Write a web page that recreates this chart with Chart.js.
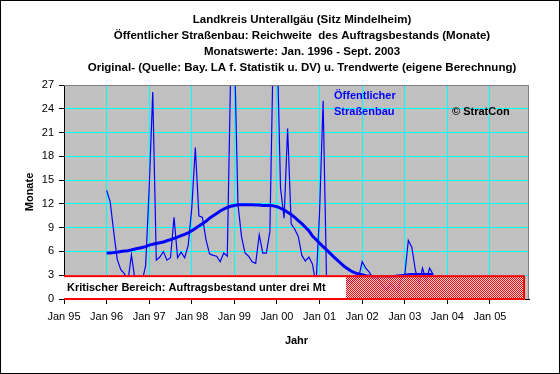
<!DOCTYPE html>
<html>
<head>
<meta charset="utf-8">
<script src="https://cdn.jsdelivr.net/npm/chart.js@4"></script>
<style>
    html, body { margin: 0; padding: 0; background: #fff; }
    #wrap { width: 560px; height: 374px; position: relative; }
</style>
</head>
<body>
<div id="wrap"><canvas id="reichweiteChart" width="560" height="374"></canvas></div>
<script>
// Chart data (months since Jan 95 on the x axis)
const titleLines = [
    'Landkreis Unterallgäu (Sitz Mindelheim)',
    'Öffentlicher Straßenbau: Reichweite  des Auftragsbestands (Monate)',
    'Monatswerte: Jan. 1996 - Sept. 2003',
    'Original- (Quelle: Bay. LA f. Statistik u. DV) u. Trendwerte (eigene Berechnung)'
];
const tickLabels = ['Jan 95', 'Jan 96', 'Jan 97', 'Jan 98', 'Jan 99', 'Jan 00',
                    'Jan 01', 'Jan 02', 'Jan 03', 'Jan 04', 'Jan 05'];
const firstMonth = 12;       // Jan 96
const axisMaxMonth = 131;    // Dec 05
const criticalLevel = 3;
const criticalEndMonth = 129.6;

// Monthly values Jan 1996 - Sept 2003
const originalValues = [
    13.7, 12.3, 8.5, 5.0, 3.7, 3.2, 2.2, 5.6, 2.4, 1.2, 2.2, 4.2,       // 1996
    14.0, 26.1, 4.9, 5.3, 6.0, 4.9, 5.2, 10.3, 5.2, 5.9, 5.2, 6.8,      // 1997
    11.5, 19.1, 10.5, 10.3, 7.5, 5.7, 5.5, 5.4, 4.7, 5.8, 5.4, 30.0,    // 1998
    32.0, 12.0, 7.9, 5.8, 5.4, 4.7, 4.5, 8.1, 5.8, 5.8, 8.5, 33.0,      // 1999
    33.0, 14.0, 10.2, 21.5, 9.5, 8.8, 7.9, 5.5, 4.8, 5.3, 4.4, 1.8,     // 2000
    11.0, 25.0, 1.5, 1.8, 2.3, 2.6, 2.2, 1.6, 2.4, 2.0, 2.6, 2.7,       // 2001
    4.7, 3.9, 3.4, 2.6, 2.7, 2.2, 1.5, 1.1, 1.9, 1.4, 0.9, 2.6,         // 2002
    3.0, 7.4, 6.5, 3.6, 1.9, 3.9, 2.3, 3.9, 3.1                         // 2003
];
const trendValues = [
    5.8, 5.8, 5.85, 5.9, 6.0, 6.05, 6.1, 6.2, 6.3, 6.4, 6.5, 6.6,
    6.8, 6.9, 7.0, 7.1, 7.2, 7.35, 7.5, 7.65, 7.8, 8.0, 8.15, 8.35,
    8.6, 8.9, 9.2, 9.5, 9.8, 10.2, 10.5, 10.8, 11.1, 11.35, 11.55, 11.7,
    11.8, 11.9, 11.9, 11.9, 11.9, 11.9, 11.85, 11.85, 11.8, 11.8, 11.8, 11.75,
    11.65, 11.45, 11.25, 10.95, 10.65, 10.3, 9.9, 9.5, 9.05, 8.6, 7.95, 7.5,
    7.05, 6.6, 6.2, 5.75, 5.3, 4.9, 4.5, 4.1, 3.8, 3.5, 3.3, 3.15,
    3.05, 2.95, 2.9, 2.85, 2.8, 2.8, 2.8, 2.8, 2.8, 2.85, 2.9, 2.95,
    3.0, 3.05, 3.1, 3.1, 3.1, 3.1, 3.1, 3.1, 3.1
];

const FONT = 'Arial, "Liberation Sans", sans-serif';

function toPoints(values) {
    return values.map((v, i) => ({ x: firstMonth + i, y: v }));
}

function makeHatch(ctx) {
    const c = document.createElement('canvas');
    c.width = 2;
    c.height = 2;
    const p = c.getContext('2d');
    p.fillStyle = 'rgba(255,235,235,0.6)';
    p.fillRect(0, 0, 2, 2);
    p.fillStyle = '#ff0000';
    p.fillRect(0, 0, 1, 1);
    p.fillRect(1, 1, 1, 1);
    return ctx.createPattern(c, 'repeat');
}

const pagePlugin = {
    id: 'page',
    beforeDraw(chart) {
        const { ctx, chartArea } = chart;
        ctx.save();
        ctx.fillStyle = '#ffffff';
        ctx.fillRect(0, 0, chart.width, chart.height);
        ctx.fillStyle = '#c0c0c0';
        ctx.fillRect(chartArea.left, chartArea.top,
                     chartArea.right - chartArea.left, chartArea.bottom - chartArea.top);
        ctx.restore();
    },
    afterDatasetsDraw(chart) {
        const { ctx, chartArea, scales } = chart;
        const x = scales.x, y = scales.y;
        const left = x.getPixelForValue(0);
        const right = x.getPixelForValue(criticalEndMonth);
        const top = y.getPixelForValue(criticalLevel);
        const bottom = y.getPixelForValue(0);

        ctx.save();
        // critical zone
        ctx.fillStyle = makeHatch(ctx);
        ctx.fillRect(left, top, right - left, bottom - top);
        ctx.strokeStyle = '#ff0000';
        ctx.lineWidth = 2;
        ctx.strokeRect(left + 1, top + 1, right - left - 1, bottom - top - 1);

        ctx.fillStyle = '#ffffff';
        ctx.fillRect(left, top + 2, 282, bottom - top - 3);
        ctx.fillStyle = '#000000';
        ctx.font = 'bold 11px ' + FONT;
        ctx.textBaseline = 'middle';
        ctx.textAlign = 'left';
        ctx.fillText('Kritischer Bereich: Auftragsbestand unter drei Mt', left + 3, (top + bottom) / 2 + 1);

        // plot frame (top / right)
        ctx.strokeStyle = '#808080';
        ctx.lineWidth = 1;
        ctx.beginPath();
        ctx.moveTo(chartArea.left, chartArea.top + 0.5);
        ctx.lineTo(chartArea.right - 0.5, chartArea.top + 0.5);
        ctx.lineTo(chartArea.right - 0.5, chartArea.bottom);
        ctx.stroke();

        // labels inside plot
        ctx.fillStyle = '#0000ff';
        ctx.fillText('Öffentlicher', 334, 96);
        ctx.fillText('Straßenbau', 334, 112);
        ctx.fillStyle = '#000000';
        ctx.fillText('© StratCon', 452, 112);
        ctx.restore();
    },
    afterDraw(chart) {
        const { ctx } = chart;
        ctx.save();
        ctx.fillStyle = '#000000';
        ctx.font = 'bold 11.5px ' + FONT;
        ctx.textAlign = 'center';
        ctx.textBaseline = 'middle';
        titleLines.forEach((line, i) => ctx.fillText(line, 302, 20 + i * 16));
        ctx.strokeStyle = '#000000';
        ctx.lineWidth = 1;
        ctx.strokeRect(0.5, 0.5, chart.width - 1, chart.height - 1);
        ctx.restore();
    }
};

const ctx = document.getElementById('reichweiteChart');
new Chart(ctx, {
    type: 'line',
    data: {
        datasets: [{
            label: 'Original',
            data: toPoints(originalValues),
            borderColor: '#0000ff',
            borderWidth: 1.2,
            pointRadius: 0,
            tension: 0
        }, {
            label: 'Trend',
            data: toPoints(trendValues),
            borderColor: '#0000ff',
            borderWidth: 3,
            pointRadius: 0,
            tension: 0
        }]
    },
    options: {
        responsive: false,
        animation: false,
        layout: {
            padding: { top: 85, right: 31, left: 0, bottom: 0 }
        },
        plugins: {
            legend: { display: false },
            tooltip: { enabled: false }
        },
        scales: {
            x: {
                type: 'linear',
                min: 0,
                max: axisMaxMonth,
                afterFit: (scale) => { scale.height = 75; },
                afterBuildTicks: (scale) => {
                    scale.ticks = tickLabels.map((label, i) => ({ value: i * 12 }));
                },
                grid: {
                    color: '#00ffff',
                    tickColor: '#000000',
                    tickLength: 5,
                    lineWidth: 1
                },
                border: { color: '#000000', width: 1 },
                ticks: {
                    color: '#000000',
                    font: { family: FONT, size: 11 },
                    padding: 6,
                    maxRotation: 0,
                    autoSkip: false,
                    callback: (value) => tickLabels[Math.round(value / 12)]
                },
                title: {
                    display: true,
                    text: 'Jahr',
                    color: '#000000',
                    font: { family: FONT, size: 11, weight: 'bold' },
                    padding: { top: 0, bottom: 26 }
                }
            },
            y: {
                min: 0,
                max: 27,
                afterFit: (scale) => { scale.width = 64; },
                grid: {
                    color: '#00ffff',
                    tickColor: '#000000',
                    tickLength: 5,
                    lineWidth: 1
                },
                border: { color: '#000000', width: 1 },
                ticks: {
                    stepSize: 3,
                    color: '#000000',
                    font: { family: FONT, size: 11 },
                    padding: 5
                },
                title: {
                    display: true,
                    text: 'Monate',
                    color: '#000000',
                    font: { family: FONT, size: 11, weight: 'bold' },
                    padding: { top: 23, bottom: 0 }
                }
            }
        }
    },
    plugins: [pagePlugin]
});
</script>
</body>
</html>
